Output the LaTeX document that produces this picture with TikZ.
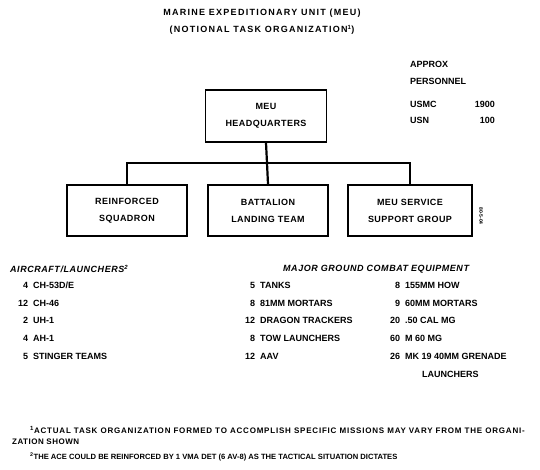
\documentclass[tikz,border=0pt]{standalone}
\usepackage{fontspec}
\setmainfont{Liberation Sans}
\begin{document}
\begin{tikzpicture}[x=1pt,y=-1pt,
  lbl/.style={font=\fontsize{9}{11}\selectfont\bfseries, inner sep=0pt},
  hdr/.style={font=\fontsize{9}{11}\selectfont\bfseries\itshape\addfontfeature{LetterSpace=6}, inner sep=0pt},
  note/.style={font=\fontsize{8}{10}\selectfont\bfseries, inner sep=0pt},
  unit/.style={draw, line width=1.6pt, minimum height=51pt, align=center,
    font=\fontsize{9}{17}\selectfont\bfseries\addfontfeature{LetterSpace=5}, inner sep=0pt},
  link/.style={line width=2.2pt},
  list/.style={font=\fontsize{9}{17.7}\selectfont\bfseries, inner sep=0pt, anchor=base west}
]
\useasboundingbox (0,0) rectangle (540,469);

% title
\node[lbl, align=center, font=\fontsize{9}{17}\selectfont\bfseries\addfontfeature{LetterSpace=14}] (title) at (262,22)
  {MARINE EXPEDITIONARY UNIT (MEU)\\(NOTIONAL TASK ORGANIZATION\textsuperscript{1})};

% personnel figures
\node[lbl, anchor=west, align=left, font=\fontsize{9}{17}\selectfont\bfseries] (approx) at (410,73) {APPROX\\PERSONNEL};
\node[lbl, anchor=west] (usmc) at (410,104) {USMC};
\node[lbl, anchor=east] (usmcn) at (495,104) {1900};
\node[lbl, anchor=west] (usn) at (410,120) {USN};
\node[lbl, anchor=east] (usnn) at (495,120) {100};

% organization boxes
\node[unit, minimum width=121pt, minimum height=52pt] (hq) at (266,116) {MEU\\HEADQUARTERS};
\node[unit, minimum width=120pt] (sq) at (127,210.5) {REINFORCED\\SQUADRON};
\node[unit, minimum width=120pt] (blt) at (268,210.5) {BATTALION\\LANDING TEAM};
\node[unit, minimum width=124pt] (mss) at (410,210.5) {MEU SERVICE\\SUPPORT GROUP};
\coordinate (bus) at (267,163);
\draw[link] (hq.south) -- (bus);
\draw[link] (sq.north) |- (bus) -| (mss.north);
\draw[link] (bus) -- (blt.north);

% file number
\node[font=\fontsize{5}{6}\selectfont\bfseries, inner sep=0pt, rotate=-90] (fileno) at (481,216) {80-5-04};

% equipment lists
\node[hdr, anchor=west] (airhdr) at (10,269) {AIRCRAFT/LAUNCHERS\textsuperscript{2}};
\node[hdr, anchor=west] (gcehdr) at (283,269) {MAJOR GROUND COMBAT EQUIPMENT};

\node[list] (air) at (18,288.5) {\begin{tabular}[t]{@{}r@{\hspace{5pt}}l@{}}
  4 & CH-53D/E\\ 12 & CH-46\\ 2 & UH-1\\ 4 & AH-1\\ 5 & STINGER TEAMS
\end{tabular}};
\node[list] (gce1) at (245,288.5) {\begin{tabular}[t]{@{}r@{\hspace{5pt}}l@{}}
  5 & TANKS\\ 8 & 81MM MORTARS\\ 12 & DRAGON TRACKERS\\ 8 & TOW LAUNCHERS\\ 12 & AAV
\end{tabular}};
\node[list] (gce2) at (390,288.5) {\begin{tabular}[t]{@{}r@{\hspace{5pt}}l@{}}
  8 & 155MM HOW\\ 9 & 60MM MORTARS\\ 20 & .50 CAL MG\\ 60 & M 60 MG\\ 26 & MK 19 40MM GRENADE\\ & \hspace{17pt}LAUNCHERS
\end{tabular}};

% footnotes
\node[note, anchor=west, font=\fontsize{8}{10}\selectfont\bfseries\addfontfeature{LetterSpace=10}] (fn1) at (30,430) {\textsuperscript{1}ACTUAL TASK ORGANIZATION FORMED TO ACCOMPLISH SPECIFIC MISSIONS MAY VARY FROM THE ORGANI-};
\node[note, anchor=west, font=\fontsize{8}{10}\selectfont\bfseries\addfontfeature{LetterSpace=6}] (fn1b) at (12,442) {ZATION SHOWN};
\node[note, anchor=west, font=\fontsize{7.6}{10}\selectfont\bfseries] (fn2) at (30,457) {\textsuperscript{2}THE ACE COULD BE REINFORCED BY 1 VMA DET (6 AV-8) AS THE TACTICAL SITUATION DICTATES};
\end{tikzpicture}
\end{document}
